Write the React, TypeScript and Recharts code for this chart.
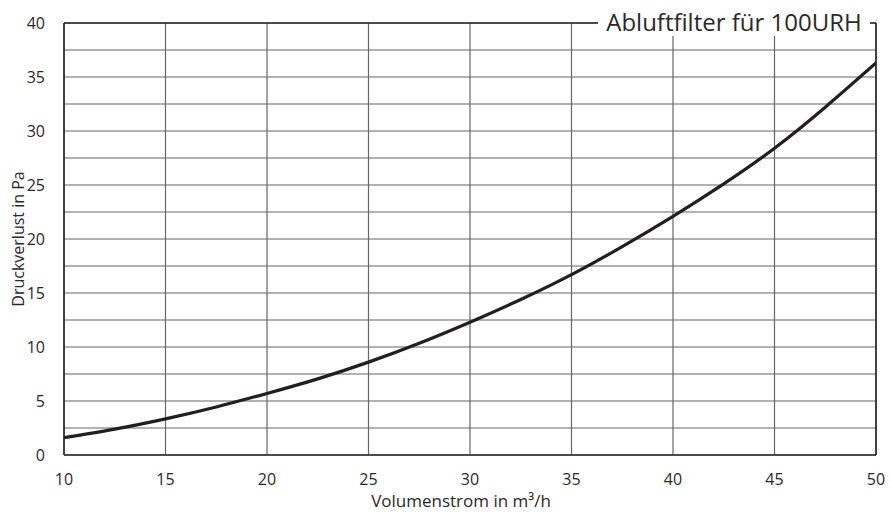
import React from "react";
import {
  LineChart,
  Line,
  XAxis,
  YAxis,
  CartesianGrid,
  ReferenceLine,
} from "recharts";

const flowRates = [10, 12.5, 15, 17.5, 20, 22.5, 25, 27.5, 30, 32.5, 35, 37.5, 40, 42.5, 45, 47.5, 50];
const pressureLoss = [1.6, 2.4, 3.35, 4.45, 5.7, 7.05, 8.6, 10.35, 12.3, 14.4, 16.7, 19.3, 22.1, 25.1, 28.4, 32.2, 36.3];
const xTicks = [10, 15, 20, 25, 30, 35, 40, 45, 50];
const yTicks = [0, 5, 10, 15, 20, 25, 30, 35, 40];
const yGridValues = [0, 2.5, 5, 7.5, 10, 12.5, 15, 17.5, 20, 22.5, 25, 27.5, 30, 32.5, 35, 37.5, 40];
const chartTitle = "Abluftfilter für 100URH";
const xTitle = "Volumenstrom in m³/h";
const yTitle = "Druckverlust in Pa";

const data = flowRates.map((x, i) => ({ x, y: pressureLoss[i] }));

const FONT = "'Open Sans', 'DejaVu Sans', sans-serif";
const TEXT = "#2b2829";
const BORDER = "#2b2829";
const GRID = "#666666";

export default function App() {
  return (
    <div style={{ position: "absolute", left: 0, top: 0, width: 891, height: 513, background: "#fff", fontFamily: FONT }}>
      <LineChart
        width={891}
        height={513}
        data={data}
        margin={{ top: 23, right: 15, bottom: 28, left: 24 }}
      >
        <CartesianGrid
          stroke={GRID}
          strokeWidth={1.2}
          horizontalValues={yGridValues}
          verticalValues={xTicks}
        />
        <XAxis
          dataKey="x"
          type="number"
          domain={[10, 50]}
          ticks={xTicks}
          allowDataOverflow
          height={30}
          tickLine={false}
          axisLine={{ stroke: BORDER, strokeWidth: 1.6 }}
          tickMargin={13}
          tick={{ fill: TEXT, fontSize: 16, fontFamily: FONT }}
          label={{ value: xTitle, position: "insideBottom", offset: -22, dx: -9, fill: TEXT, fontSize: 17, fontFamily: FONT }}
        />
        <YAxis
          type="number"
          domain={[0, 40]}
          ticks={yTicks}
          allowDataOverflow
          width={40}
          tickLine={false}
          axisLine={{ stroke: BORDER, strokeWidth: 1.6 }}
          tickMargin={13}
          tick={{ fill: TEXT, fontSize: 16, fontFamily: FONT }}
          label={{ value: yTitle, angle: -90, position: "insideLeft", offset: -6, fill: TEXT, fontSize: 16, fontFamily: FONT, style: { textAnchor: "middle" } }}
        />
        <ReferenceLine y={40} stroke={BORDER} strokeWidth={1.6} />
        <ReferenceLine x={50} stroke={BORDER} strokeWidth={1.6} />
        <Line
          type="natural"
          dataKey="y"
          stroke="#231f20"
          strokeWidth={3.2}
          dot={false}
          isAnimationActive={false}
        />
      </LineChart>
      <div
        style={{
          position: "absolute",
          left: 598,
          top: 8,
          width: 272,
          height: 28,
          background: "#fff",
          color: TEXT,
          fontSize: 24,
          lineHeight: "28px",
          textAlign: "center",
          fontFamily: FONT,
          whiteSpace: "nowrap",
        }}
      >
        {chartTitle}
      </div>
    </div>
  );
}
